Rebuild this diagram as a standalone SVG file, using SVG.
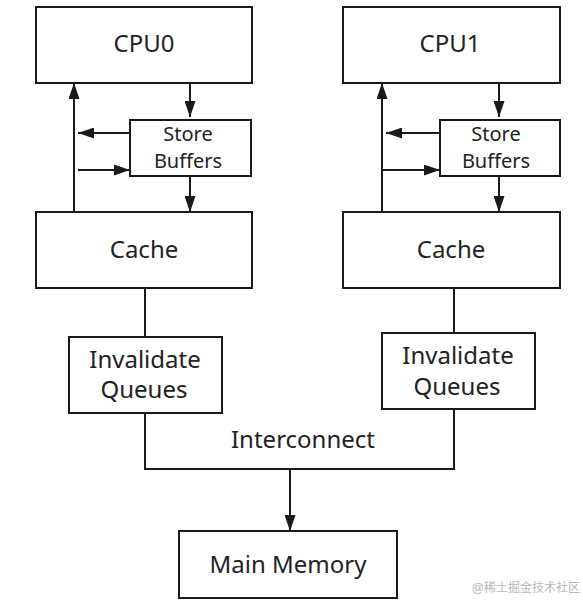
<svg xmlns="http://www.w3.org/2000/svg" width="583" height="601" viewBox="0 0 583 601">
<style>
.box{fill:#fff;stroke:#1a1a1a;stroke-width:2}
.ln{fill:none;stroke:#1a1a1a;stroke-width:2}
.arr{fill:none;stroke:#1a1a1a;stroke-width:2;marker-end:url(#ah)}
.t{font-family:"Noto Sans","Open Sans","Liberation Sans",sans-serif;fill:#222;text-anchor:middle}
.big{font-size:24px}
.mid{font-size:20px}
.wm{font-family:"Liberation Sans","Noto Sans CJK SC",sans-serif;font-size:12px;fill:#b8b8b8;text-anchor:end}
</style>
<defs>
<marker id="ah" markerUnits="userSpaceOnUse" markerWidth="16" markerHeight="11" refX="16" refY="5.5" orient="auto">
<path d="M0,0 L16,5.5 L0,11 z" fill="#1a1a1a"/>
</marker>
</defs>
<rect width="583" height="601" fill="#fff"/>
<g id="connectors">
<line class="arr" x1="190" y1="83" x2="190" y2="117"/>
<line class="arr" x1="190" y1="176" x2="190" y2="212"/>
<line class="arr" x1="130" y1="133" x2="78" y2="133"/>
<line class="arr" x1="78" y1="170" x2="130" y2="170"/>
<line class="arr" x1="74" y1="212" x2="74" y2="83"/>
<line class="arr" x1="499" y1="83" x2="499" y2="117"/>
<line class="arr" x1="499" y1="176" x2="499" y2="212"/>
<line class="arr" x1="440" y1="133" x2="386" y2="133"/>
<line class="arr" x1="382" y1="170" x2="440" y2="170"/>
<line class="arr" x1="382" y1="212" x2="382" y2="83"/>
<line class="ln" x1="145" y1="288" x2="145" y2="337"/>
<line class="ln" x1="454" y1="288" x2="454" y2="333"/>
<polyline class="ln" points="145,413 145,469 454,469 454,409"/>
<line class="arr" x1="290" y1="469" x2="290" y2="531"/>
</g>
<g id="cpu0"><rect class="box" x="36" y="7" width="216" height="76"/><text class="t big" x="144" y="52">CPU0</text></g>
<g id="sb0"><rect class="box" x="130" y="120" width="121" height="56"/><text class="t mid" x="188" y="141">Store</text><text class="t mid" x="188" y="168">Buffers</text></g>
<g id="cache0"><rect class="box" x="36" y="212" width="216" height="76"/><text class="t big" x="144" y="258">Cache</text></g>
<g id="iq0"><rect class="box" x="69" y="337" width="153" height="76"/><text class="t big" x="145" y="368">Invalidate</text><text class="t big" x="144" y="398">Queues</text></g>
<g id="cpu1"><rect class="box" x="343" y="7" width="217" height="76"/><text class="t big" x="450" y="52">CPU1</text></g>
<g id="sb1"><rect class="box" x="440" y="120" width="120" height="56"/><text class="t mid" x="496" y="141">Store</text><text class="t mid" x="496" y="168">Buffers</text></g>
<g id="cache1"><rect class="box" x="343" y="212" width="217" height="76"/><text class="t big" x="451" y="258">Cache</text></g>
<g id="iq1"><rect class="box" x="382" y="333" width="153" height="76"/><text class="t big" x="458" y="364">Invalidate</text><text class="t big" x="457" y="395">Queues</text></g>
<g id="interconnect"><text class="t big" x="303" y="448">Interconnect</text></g>
<g id="mem"><rect class="box" x="179" y="531" width="218" height="67"/><text class="t big" x="288" y="573">Main Memory</text></g>
<text class="wm" x="580" y="592">@稀土掘金技术社区</text>
</svg>
